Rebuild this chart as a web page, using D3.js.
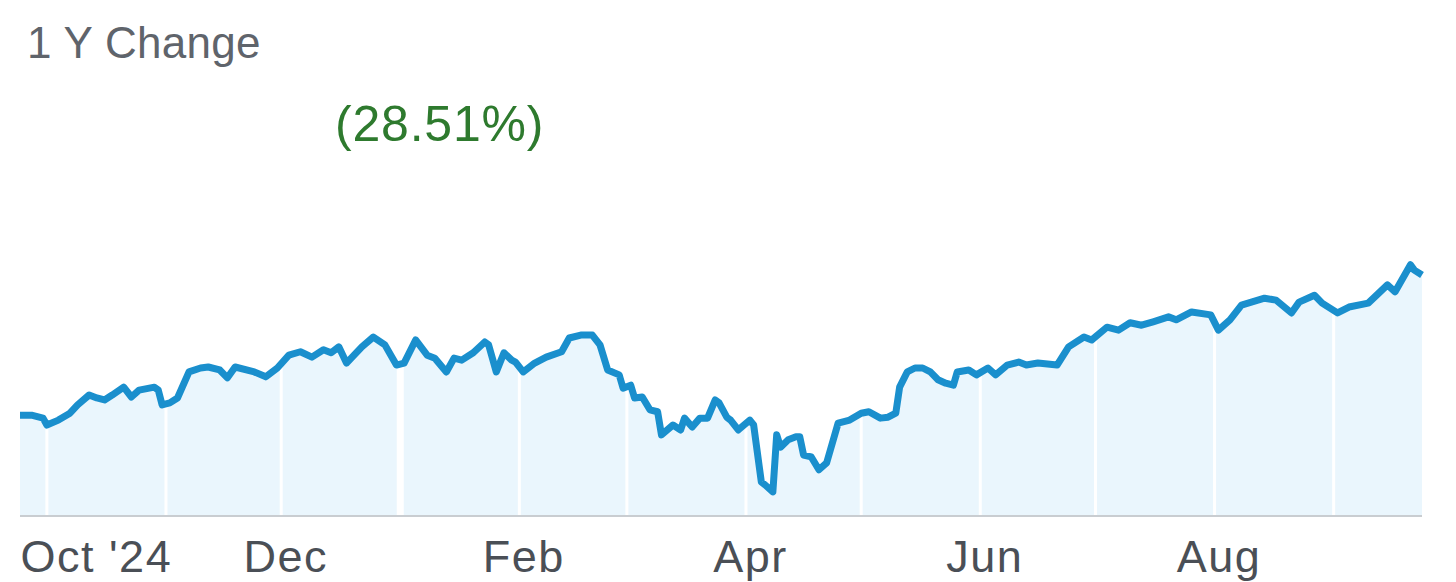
<!DOCTYPE html>
<html>
<head>
<meta charset="utf-8">
<script src="https://cdn.jsdelivr.net/npm/d3@7"></script>
<style>
  html, body { margin: 0; padding: 0; background: #ffffff; }
  svg { display: block; }
</style>
</head>
<body>
<svg id="chart" width="1456" height="582"></svg>
<script>
// ---- data ----
const titleText = "1 Y Change";
const changeText = "(28.51%)";

const dates = [
  "2024-09-24","2024-09-27","2024-09-30","2024-10-01","2024-10-04","2024-10-07","2024-10-09","2024-10-12","2024-10-14","2024-10-16",
  "2024-10-18","2024-10-21","2024-10-23","2024-10-25","2024-10-29","2024-10-30","2024-10-31","2024-11-02","2024-11-04","2024-11-07",
  "2024-11-10","2024-11-12","2024-11-15","2024-11-17","2024-11-19","2024-11-24","2024-11-27","2024-11-30","2024-12-03","2024-12-06",
  "2024-12-09","2024-12-12","2024-12-14","2024-12-16","2024-12-18","2024-12-22","2024-12-25","2024-12-28","2024-12-31","2025-01-02",
  "2025-01-05","2025-01-08","2025-01-10","2025-01-13","2025-01-15","2025-01-17","2025-01-20","2025-01-23","2025-01-24","2025-01-26",
  "2025-01-28","2025-01-30","2025-01-31","2025-02-02","2025-02-05","2025-02-08","2025-02-12","2025-02-14","2025-02-17","2025-02-20",
  "2025-02-22","2025-02-24","2025-02-27","2025-02-28","2025-03-02","2025-03-03","2025-03-05","2025-03-07","2025-03-09","2025-03-10",
  "2025-03-13","2025-03-15","2025-03-16","2025-03-18","2025-03-20","2025-03-22","2025-03-24","2025-03-25","2025-03-27","2025-03-28",
  "2025-03-30","2025-04-02","2025-04-03","2025-04-05","2025-04-06","2025-04-08","2025-04-09","2025-04-10","2025-04-12","2025-04-14",
  "2025-04-15","2025-04-16","2025-04-18","2025-04-20","2025-04-22","2025-04-25","2025-04-28","2025-05-01","2025-05-03","2025-05-06",
  "2025-05-08","2025-05-10","2025-05-11","2025-05-13","2025-05-15","2025-05-17","2025-05-19","2025-05-21","2025-05-23","2025-05-25",
  "2025-05-26","2025-05-29","2025-05-31","2025-06-03","2025-06-05","2025-06-08","2025-06-11","2025-06-13","2025-06-16","2025-06-21",
  "2025-06-24","2025-06-28","2025-06-30","2025-07-04","2025-07-07","2025-07-10","2025-07-13","2025-07-16","2025-07-20","2025-07-22",
  "2025-07-26","2025-07-31","2025-08-02","2025-08-05","2025-08-08","2025-08-14","2025-08-17","2025-08-21","2025-08-23","2025-08-27",
  "2025-08-29","2025-09-02","2025-09-05","2025-09-10","2025-09-15","2025-09-17","2025-09-21","2025-09-22","2025-09-24"
];

const values = [
  100.3,100.3,99.7,98.3,99.3,100.7,102.4,104.4,103.8,103.4,
  104.4,106.0,104.0,105.4,106.0,105.4,102.4,102.8,103.8,109.1,
  109.9,110.1,109.5,107.9,110.1,109.1,108.1,109.9,112.5,113.2,
  112.1,113.6,113.0,114.2,110.9,114.2,116.2,114.6,110.5,110.9,
  115.6,112.5,111.9,109.1,111.9,111.5,113.0,115.2,114.6,109.1,
  113.0,111.5,111.1,109.1,110.9,112.1,113.2,116.0,116.6,116.6,
  114.6,109.5,108.5,105.8,106.4,103.8,104.0,101.4,101.0,96.3,
  98.3,97.3,99.7,97.9,99.7,99.7,103.4,102.8,99.9,99.3,
  97.3,99.3,98.3,86.7,86.1,84.7,96.3,93.8,95.3,95.9,
  95.9,92.2,91.8,89.2,90.6,98.7,99.3,100.7,101.0,99.7,
  99.9,100.7,106.0,109.1,109.9,109.9,109.1,107.5,106.8,106.4,
  109.1,109.5,108.5,109.9,108.5,110.5,111.1,110.5,110.9,110.5,
  114.2,116.2,115.6,118.2,117.6,119.1,118.6,119.3,120.3,119.7,
  121.3,120.7,117.6,119.7,122.7,124.1,123.7,121.1,123.3,124.7,
  123.1,121.1,122.3,123.1,126.8,125.4,130.9,129.8,128.8
];

const gridMonths = ["2024-10-01","2024-11-01","2024-12-01","2025-01-01","2025-02-01","2025-03-01",
                    "2025-04-01","2025-05-01","2025-06-01","2025-07-01","2025-08-01","2025-09-01"];
const tickDates = ["2024-10-01","2024-12-01","2025-02-01","2025-04-01","2025-06-01","2025-08-01"];
const tickLabels = ["Oct '24","Dec","Feb","Apr","Jun","Aug"];

// ---- setup ----
const parse = d3.utcParse("%Y-%m-%d");
const data = dates.map((d, i) => ({ date: parse(d), value: values[i] }));

const svg = d3.select("#chart");
const x = d3.scaleUtc()
  .domain([parse("2024-09-24"), parse("2025-09-24")])
  .range([20, 1422]);
const y = d3.scaleLinear().domain([80, 140]).range([515, 220]);

const FONT = "'Liberation Sans', Arial, sans-serif";

// title texts
svg.append("text")
  .attr("x", 27).attr("y", 58)
  .attr("font-family", FONT)
  .attr("font-size", 44)
  .attr("letter-spacing", 0.3)
  .attr("fill", "#5f646b")
  .text(titleText);

svg.append("text")
  .attr("x", 335).attr("y", 141)
  .attr("font-family", FONT)
  .attr("font-size", 50)
  .attr("letter-spacing", 0.8)
  .attr("fill", "#2e7a2e")
  .text(changeText);

// area fill
const area = d3.area()
  .x(d => x(d.date))
  .y0(y(80))
  .y1(d => y(d.value));
svg.append("path")
  .datum(data)
  .attr("d", area)
  .attr("fill", "#eaf6fd");

// month gridlines (white)
svg.append("g")
  .selectAll("line")
  .data(gridMonths.map(parse))
  .join("line")
  .attr("x1", d => x(d)).attr("x2", d => x(d))
  .attr("y1", y(140)).attr("y2", y(80))
  .attr("stroke", "#ffffff")
  .attr("stroke-width", d => (d.getUTCMonth() === 0 ? 7 : 3));

// baseline
svg.append("line")
  .attr("x1", 20).attr("x2", 1422)
  .attr("y1", y(80) + 1).attr("y2", y(80) + 1)
  .attr("stroke", "#c9cdd1")
  .attr("stroke-width", 2);

// price line
const line = d3.line()
  .x(d => x(d.date))
  .y(d => y(d.value));
svg.append("path")
  .datum(data)
  .attr("d", line)
  .attr("fill", "none")
  .attr("stroke", "#1a8fcd")
  .attr("stroke-width", 7)
  .attr("stroke-linejoin", "round")
  .attr("stroke-linecap", "butt");

// x axis labels
const xAxis = d3.axisBottom(x)
  .tickValues(tickDates.map(parse))
  .tickFormat((d, i) => tickLabels[i])
  .tickSize(0)
  .tickPadding(0);
const gx = svg.append("g")
  .attr("transform", "translate(0,540)")
  .call(xAxis);
gx.select(".domain").remove();
gx.selectAll("text")
  .attr("font-family", FONT)
  .attr("font-size", 45)
  .attr("letter-spacing", 1.5)
  .attr("fill", "#4a4f56")
  .attr("dx", 4)
  .attr("dy", "0.72em");
gx.selectAll(".tick").filter((d, i) => i === 0)
  .select("text")
  .attr("text-anchor", "start")
  .attr("dx", 0)
  .attr("x", 20 - x(parse(tickDates[0])));
</script>
</body>
</html>
